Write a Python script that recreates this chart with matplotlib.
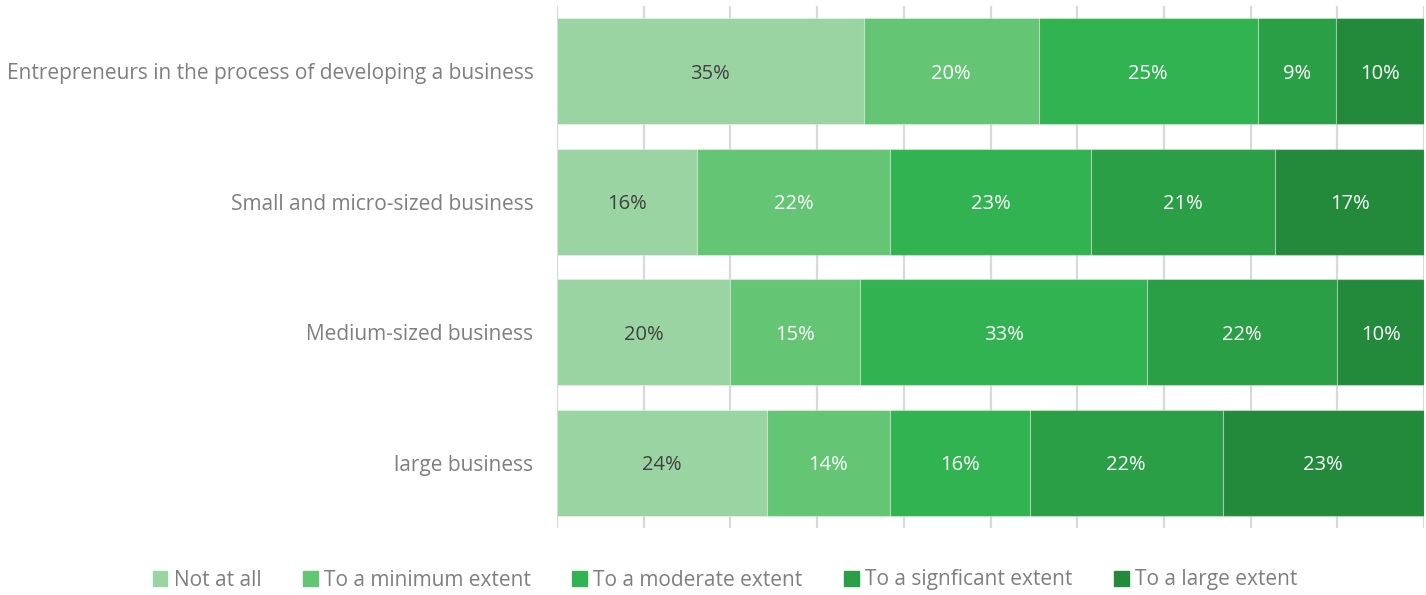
import matplotlib.pyplot as plt
import numpy as np
from matplotlib.patches import Patch

plt.rcParams['font.family'] = ['Open Sans', 'DejaVu Sans']

categories = [
    "Entrepreneurs in the process of developing a business",
    "Small and micro-sized business",
    "Medium-sized business",
    "large business",
]
levels = [
    "Not at all",
    "To a minimum extent",
    "To a moderate extent",
    "To a signficant extent",
    "To a large extent",
]
# percent of respondents per answer, one list per answer level
not_at_all = [35, 16, 20, 24]
minimum = [20, 22, 15, 14]
moderate = [25, 23, 33, 16]
significant = [9, 21, 22, 22]
large = [10, 17, 10, 23]

colors = ["#9ad4a2", "#64c574", "#30b350", "#2a9f45", "#238a3b"]
label_colors = ["#404040", "white", "white", "white", "white"]

values = np.array([not_at_all, minimum, moderate, significant, large], dtype=float)
shares = values / values.sum(axis=0)  # 100% stacked

fig = plt.figure(figsize=(14.26, 5.95), dpi=100)
ax = fig.add_axes([557 / 1426, 1 - 528 / 595, 867 / 1426, 522 / 595])

y = np.arange(len(categories))
left = np.zeros(len(categories))
for i in range(len(levels)):
    bars = ax.barh(y, shares[i], left=left, height=0.81, color=colors[i],
                   edgecolor=(1, 1, 1, 0.35), linewidth=0.8, label=levels[i])
    for j, b in enumerate(bars):
        ax.text(left[j] + shares[i][j] / 2, y[j] + 0.02, f"{values[i][j]:.0f}%",
                ha="center", va="center", fontsize=14.5, color=label_colors[i])
    left += shares[i]

ax.set_xlim(0, 1)
ax.set_ylim(3.5, -0.5)
ax.set_xticks(np.linspace(0, 1, 11))
ax.set_xticklabels([])
ax.tick_params(axis="x", length=0)
ax.tick_params(axis="y", length=0, pad=17)
ax.set_yticks(y)
ax.set_yticklabels(categories, fontsize=15, color="#7f7f7f")
ax.grid(axis="x", color="#d9d9d9", linewidth=1.6)
ax.set_axisbelow(True)
for s in ax.spines.values():
    s.set_visible(False)

handles = [Patch(color=c) for c in colors]
fig.legend(handles, levels, loc="center", bbox_to_anchor=(725 / 1426, 1 - 580 / 595),
           ncol=5, frameon=False, fontsize=15, labelcolor="#7f7f7f",
           handlelength=0.7, handleheight=0.7, handletextpad=0.3,
           columnspacing=2.0)

fig.savefig("out.png", dpi=100)
